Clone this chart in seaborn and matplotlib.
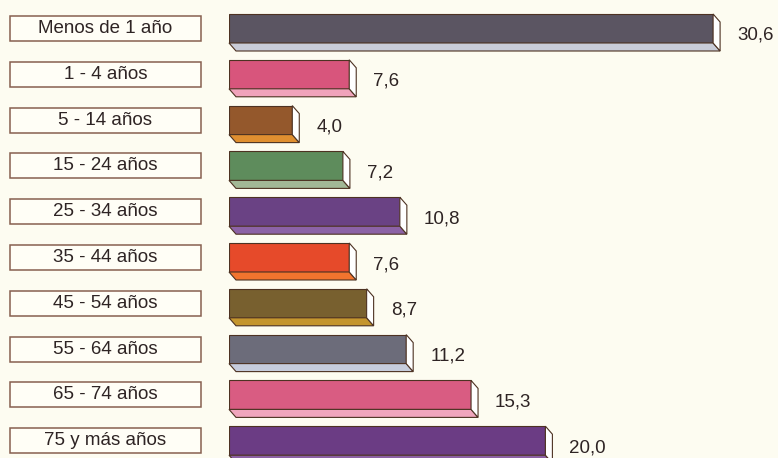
import matplotlib
matplotlib.use("Agg")
import matplotlib.pyplot as plt
import matplotlib.transforms as mtransforms
from matplotlib.patches import Polygon, Rectangle
import seaborn as sns
import pandas as pd

# data
grupos = ["Menos de 1 año", "1 - 4 años", "5 - 14 años", "15 - 24 años",
          "25 - 34 años", "35 - 44 años", "45 - 54 años", "55 - 64 años",
          "65 - 74 años", "75 y más años"]
valores = [30.6, 7.6, 4.0, 7.2, 10.8, 7.6, 8.7, 11.2, 15.3, 20.0]
etiquetas = ["30,6", "7,6", "4,0", "7,2", "10,8", "7,6", "8,7", "11,2", "15,3", "20,0"]

# front face colour and lighter underside colour per bar
frente = ["#5b5562", "#d8557c", "#94582c", "#5e8c5c", "#6a4284",
          "#e64a2a", "#78602f", "#6c6c7a", "#d95c82", "#6b3c84"]
base = ["#c9ccd8", "#f0a3bb", "#e08f30", "#a2b896", "#8c62a6",
        "#f2742e", "#c4952e", "#c6ccdc", "#f0a6bd", "#8c60a4"]

fondo = "#fdfcf1"
borde = "#4d3222"

df = pd.DataFrame({"grupo": grupos, "valor": valores})

sns.set_theme(style="white")
plt.rcParams["font.family"] = ["Liberation Sans", "DejaVu Sans"]

W, H = 778, 458
fig = plt.figure(figsize=(W / 100, H / 100), dpi=100, facecolor=fondo)
row_px = 45.8
top_px = 28.5 - row_px / 2
ax = fig.add_axes([229 / W, 1 - (top_px + 10 * row_px) / H, 1 - 229 / W, 10 * row_px / H])
ax.set_facecolor(fondo)

sns.barplot(data=df, y="grupo", x="valor", hue="grupo", palette=frente,
            legend=False, orient="h", width=0.633, edgecolor=borde,
            linewidth=0.8, saturation=1, ax=ax)

ax.set_xlim(0, (W - 229) / 15.82)
ax.set_ylim(9.5, -0.5)
ax.axis("off")

# 3D extrusion: back face offset right and down in pixels
dx, dy = 7, -8
inv = ax.transData.inverted()


def to_data(pts):
    return inv.transform(pts)


for i, p in enumerate(ax.patches[:len(grupos)]):
    x0, y0 = p.get_x(), p.get_y()
    w, h = p.get_width(), p.get_height()
    (ax0, atop), (ax1, abot) = ax.transData.transform([(x0, y0), (x0 + w, y0 + h)])
    top = max(atop, abot)
    bot = min(atop, abot)
    lado = to_data([(ax1, top), (ax1 + dx, top + dy), (ax1 + dx, bot + dy), (ax1, bot)])
    suelo = to_data([(ax0, bot), (ax1, bot), (ax1 + dx, bot + dy), (ax0 + dx, bot + dy)])
    ax.add_patch(Polygon(suelo, closed=True, facecolor=base[i], edgecolor=borde,
                         linewidth=0.8, clip_on=False))
    ax.add_patch(Polygon(lado, closed=True, facecolor="#ffffff", edgecolor=borde,
                         linewidth=0.8, clip_on=False))
    # value label right of the bar
    lx, ly = to_data([(ax1 + 24, (top + bot) / 2 - 7)])[0]
    ax.text(lx, ly, etiquetas[i], ha="left", va="center", fontsize=13.5,
            color="#2e2424", clip_on=False)

# category boxes on the left
trans = mtransforms.blended_transform_factory(fig.transFigure, ax.transData)
caja_h = 25 / row_px
for i, g in enumerate(grupos):
    ax.add_patch(Rectangle((10 / W, i - caja_h / 2), 191 / W, caja_h,
                           transform=trans, facecolor="#fffef6", edgecolor="#876050",
                           linewidth=1.1, clip_on=False))
    ax.text(105.5 / W, i, g, transform=trans, ha="center", va="center",
            fontsize=13.5, color="#2e2424", clip_on=False)

fig.savefig("out.png", dpi=100, facecolor=fondo)
